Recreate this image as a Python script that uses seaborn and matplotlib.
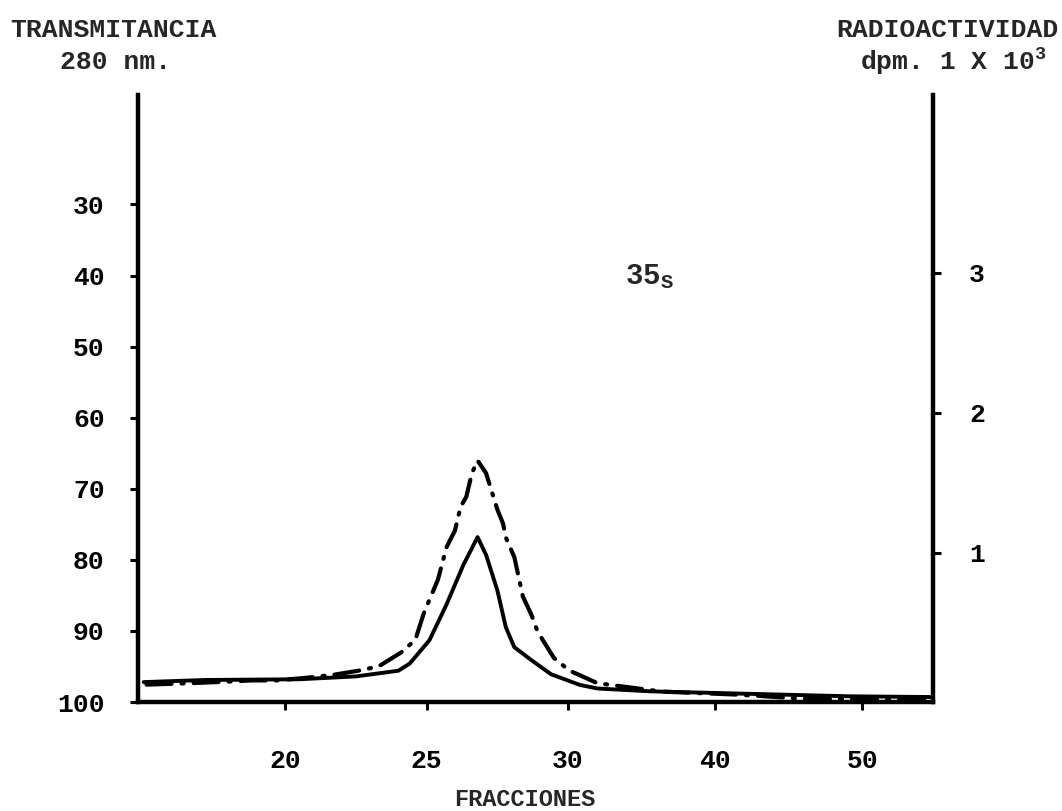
import matplotlib
matplotlib.use("Agg")
import matplotlib.pyplot as plt
import numpy as np
import seaborn as sns

# fraction number vs. transmittance (%) at 280 nm -- solid curve
trans_frac = [15.0, 17.2, 20.5, 22.5, 24.0, 24.4, 25.1, 25.7, 26.3, 26.8, 27.1,
              27.5, 27.8, 28.1, 28.7, 29.4, 30.8, 32.0, 35.6, 43.3, 49.2, 54.6]
trans_val = [97.2, 96.9, 96.8, 96.4, 95.6, 94.6, 91.3, 86.3, 80.7, 76.8, 79.3,
             84.3, 89.5, 92.3, 94.1, 96.1, 97.6, 98.1, 98.5, 98.9, 99.2, 99.3]

# fraction number vs. radioactivity (dpm x 10^3) -- dash-dot curve
radio_frac = [15.1, 16.6, 17.8, 18.8, 19.7, 20.8, 21.7, 22.6, 23.3, 24.1,
              24.6, 24.9, 25.4, 25.7, 26.0, 26.2, 26.4, 26.6, 26.8, 27.1,
              27.5, 27.7, 27.8, 28.1, 28.4, 28.7, 28.9, 29.1, 29.5, 30.1,
              32.0, 34.2, 36.4, 38.8, 41.2, 42.9, 45.8, 54.6]
radio_val = [0.06, 0.07, 0.08, 0.09, 0.09, 0.11, 0.13, 0.16, 0.19, 0.29,
             0.38, 0.57, 0.81, 1.04, 1.16, 1.33, 1.40, 1.57, 1.66, 1.57,
             1.31, 1.21, 1.11, 0.97, 0.69, 0.56, 0.45, 0.38, 0.25, 0.16,
             0.07, 0.04, 0.01, 0.0, -0.01, -0.02, -0.04, -0.05]

x_ticks = [20, 25, 30, 40, 50]
left_ticks = [30, 40, 50, 60, 70, 80, 90, 100]
right_ticks = [1, 2, 3]

FONT = "Liberation Mono"

sns.set_style("white")
plt.rcParams["font.family"] = [FONT, "DejaVu Sans"]
plt.rcParams["font.weight"] = "bold"
plt.rcParams["mathtext.fontset"] = "custom"
plt.rcParams["mathtext.rm"] = f"{FONT}:bold"
plt.rcParams["mathtext.it"] = f"{FONT}:bold"
plt.rcParams["mathtext.bf"] = f"{FONT}:bold"


# the fraction axis is drawn with a compressed scale beyond fraction 30
def fwd(x):
    x = np.asarray(x, dtype=float)
    return np.where(x <= 30, x, 30 + (x - 30) * 0.52)


def inv(y):
    y = np.asarray(y, dtype=float)
    return np.where(y <= 30, y, 30 + (y - 30) / 0.52)


fig = plt.figure(figsize=(10.62, 8.11), dpi=100, facecolor="white")
ax = fig.add_axes([0.130, 0.1344, 0.7485, 0.7485])
ax.set_xscale("function", functions=(fwd, inv))
ax2 = ax.twinx()

sns.lineplot(x=trans_frac, y=trans_val, ax=ax, color="black", linewidth=2.8,
             solid_capstyle="round", solid_joinstyle="round")
sns.lineplot(x=radio_frac, y=radio_val, ax=ax2, color="black", linewidth=3.0)
ax2.lines[-1].set_linestyle((0, (6, 2.4, 0.5, 2.4)))
ax2.lines[-1].set_dash_capstyle("round")
ax2.lines[-1].set_dash_joinstyle("round")

ax.set_xlim(14.8, 54.8)
ax.set_ylim(100, 14.6)
ax2.set_ylim(-0.064, 4.27)

ax.set_xticks(x_ticks)
ax.set_xticklabels([str(t) for t in x_ticks])
ax.set_yticks(left_ticks)
ax.set_yticklabels([str(t) for t in left_ticks])
ax2.set_yticks(right_ticks)
ax2.set_yticklabels([str(t) for t in right_ticks])
ax.xaxis.set_minor_locator(matplotlib.ticker.NullLocator())

for s in ["top", "right"]:
    ax.spines[s].set_visible(False)
for s in ["top", "left", "bottom"]:
    ax2.spines[s].set_visible(False)
for sp in [ax.spines["left"], ax.spines["bottom"], ax2.spines["right"]]:
    sp.set_linewidth(3.2)
    sp.set_color("black")
    sp.set_capstyle("projecting")

ax.tick_params(axis="y", direction="out", length=6, width=2.2, pad=18,
               labelsize=19, left=True, colors="black")
ax.tick_params(axis="x", direction="out", length=6, width=2.2, pad=28,
               labelsize=19, bottom=True, colors="black")
ax2.tick_params(axis="y", direction="out", length=6, width=2.2, pad=20,
                labelsize=19, right=True, colors="black")
ax.grid(False)
ax2.grid(False)

ax.set_xlabel("FRACCIONES", fontsize=17, fontweight="bold", va="center")
ax.xaxis.set_label_coords(0.487, -0.161)
ax.set_ylabel("")
ax2.set_ylabel("")

ax.text(0.612, 0.70, "35$_{S}$", transform=ax.transAxes, fontsize=21,
        fontweight="bold", ha="left", va="center")

fig.text(0.0094, 0.963, "TRANSMITANCIA", fontsize=19, fontweight="bold",
         ha="left", va="center")
fig.text(0.0565, 0.9236, "280 nm.", fontsize=19, fontweight="bold",
         ha="left", va="center")
fig.text(0.997, 0.963, "RADIOACTIVIDAD", fontsize=19, fontweight="bold",
         ha="right", va="center")
fig.text(0.985, 0.9236, "dpm. 1 X 10$^{3}$", fontsize=19, fontweight="bold",
         ha="right", va="center")

fig.savefig("out.png", dpi=100, facecolor="white")
